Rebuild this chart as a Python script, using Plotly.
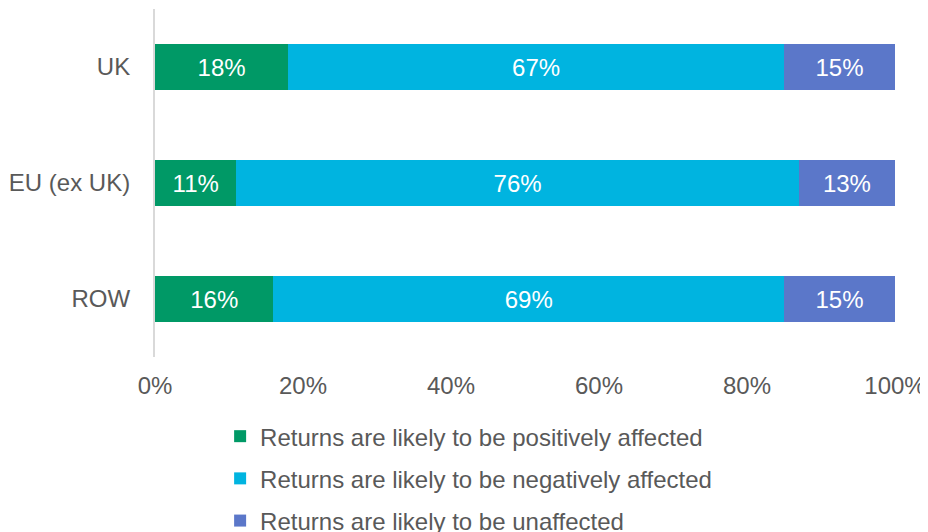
import plotly.graph_objects as go

regions = ["UK", "EU (ex UK)", "ROW"]
positive = [18, 11, 16]
negative = [67, 76, 69]
unaffected = [15, 13, 15]
x_ticks = [0, 20, 40, 60, 80, 100]

series = [
    ("Returns are likely to be positively affected", positive, "#009966"),
    ("Returns are likely to be negatively affected", negative, "#00B4E0"),
    ("Returns are likely to be unaffected", unaffected, "#5B77C9"),
]

FONT = "Liberation Sans, Arial"

fig = go.Figure()
for i, (name, vals, color) in enumerate(series):
    fig.add_trace(go.Bar(
        y=regions, x=vals, name=name, orientation="h",
        marker=dict(color=color, line=dict(width=0)),
        text=[f"{v}%" for v in vals], textposition="inside",
        insidetextanchor="middle",
        textfont=dict(color="white", size=24, family=FONT),
        legendgroup=f"g{i}",
    ))

# page body adds an 8px margin, so the figure is kept 8px smaller
fig.update_layout(
    barmode="stack",
    bargap=0.6,
    width=920, height=524,
    margin=dict(l=147, r=33, t=1, b=175, autoexpand=False),
    paper_bgcolor="white", plot_bgcolor="white",
    font=dict(family=FONT, size=24, color="#595959"),
    uniformtext=dict(mode="show", minsize=24),
    legend=dict(
        x=0.088, y=-0.164, xanchor="left", yanchor="top",
        traceorder="grouped", tracegroupgap=8,
        font=dict(size=24, color="#595959"),
    ),
    xaxis=dict(
        range=[0, 100], tickvals=x_ticks, ticktext=[f"{v}%" for v in x_ticks],
        showgrid=False, zeroline=False, showline=False,
        ticks="outside", ticklen=7, tickcolor="rgba(0,0,0,0)",
        ticklabeloverflow="allow",
    ),
    yaxis=dict(
        autorange="reversed", showgrid=False, zeroline=False,
        showline=True, linecolor="#D9D9D9", linewidth=2,
        ticks="outside", ticklen=18, tickcolor="rgba(0,0,0,0)",
    ),
)

fig.write_html("out.html")
